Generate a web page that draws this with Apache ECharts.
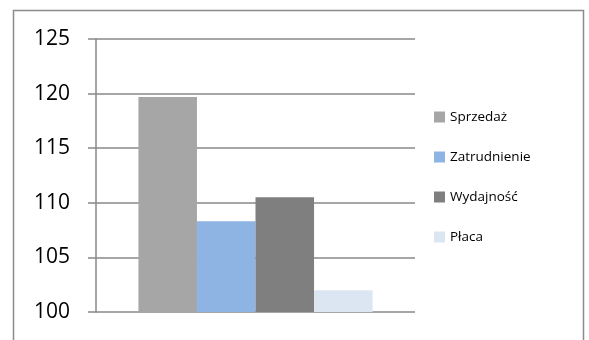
<!DOCTYPE html>
<html>
<head>
<meta charset="utf-8">
<script src="https://cdn.jsdelivr.net/npm/echarts@6/dist/echarts.min.js"></script>
<style>
  html, body { margin: 0; padding: 0; background: #fff; }
  #chart { width: 589px; height: 340px; }
</style>
</head>
<body>
<div id="chart"></div>
<script>
// Single category, four indicators drawn side by side
const categories = [''];
const seriesNames = ['Sprzedaż', 'Zatrudnienie', 'Wydajność', 'Płaca'];
const sprzedaz = [119.7];
const zatrudnienie = [108.3];
const wydajnosc = [110.5];
const placa = [102.0];
const seriesValues = [sprzedaz, zatrudnienie, wydajnosc, placa];
const colors = ['#a6a6a6', '#8eb4e3', '#7f7f7f', '#dce6f2'];

const chart = echarts.init(document.getElementById('chart'), null, { renderer: 'canvas' });

const font = 'Open Sans';

chart.setOption({
  animation: false,
  backgroundColor: '#ffffff',
  color: colors,
  graphic: [{
    type: 'rect',
    shape: { x: 13.5, y: 10.5, width: 570, height: 340 },
    style: { fill: 'none', stroke: '#8c8c8c', lineWidth: 1.5 },
    silent: true
  }],
  grid: { left: 96, right: 174, top: 39, bottom: 28 },
  legend: {
    orient: 'vertical',
    left: 429,
    top: 105,
    itemWidth: 11,
    itemHeight: 11,
    itemGap: 26,
    icon: 'rect',
    textStyle: { fontFamily: font, fontSize: 13.5, color: '#000', lineHeight: 14 },
    data: seriesNames
  },
  xAxis: {
    type: 'category',
    data: categories,
    axisLine: { show: false },
    axisTick: { show: false },
    axisLabel: { show: false }
  },
  yAxis: {
    type: 'value',
    min: 100,
    max: 125,
    interval: 5,
    axisLine: { show: true, lineStyle: { color: '#888', width: 1.5 } },
    axisTick: { show: true, length: 8, lineStyle: { color: '#888', width: 1.5 } },
    axisLabel: { fontFamily: font, fontSize: 21, color: '#000', margin: 26 },
    splitLine: { lineStyle: { color: '#888', width: 1.5 } }
  },
  series: seriesNames.map((name, i) => ({
    name: name,
    type: 'bar',
    data: seriesValues[i],
    barGap: '0%',
    barCategoryGap: '26.6%',
    itemStyle: { color: colors[i] }
  }))
});
</script>
</body>
</html>
